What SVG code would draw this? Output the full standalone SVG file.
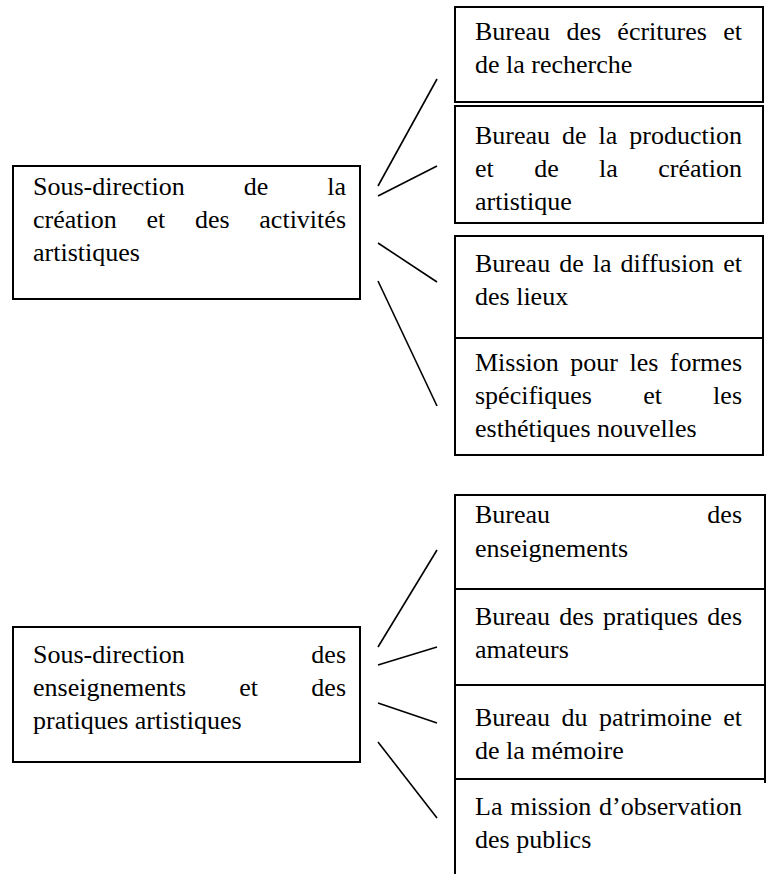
<svg xmlns="http://www.w3.org/2000/svg" width="771" height="874" viewBox="0 0 771 874" font-family="serif">
<style>
.box{fill:none;stroke:#000;stroke-width:2}
.ln{fill:none;stroke:#000;stroke-width:1.6}
text{font-size:26px;fill:#000}
</style>
<rect width="771" height="874" fill="#fff"/>
<g id="connectors">
<line class="ln" x1="378" y1="186" x2="437" y2="79"/>
<line class="ln" x1="378" y1="196" x2="437" y2="166"/>
<line class="ln" x1="378" y1="243" x2="437" y2="282"/>
<line class="ln" x1="378" y1="281" x2="437" y2="406"/>
<line class="ln" x1="378" y1="647" x2="437" y2="550"/>
<line class="ln" x1="378" y1="665" x2="437" y2="647"/>
<line class="ln" x1="378" y1="703" x2="437" y2="723"/>
<line class="ln" x1="378" y1="742" x2="437" y2="818"/>
</g>
<g id="sd-creation">
<rect class="box" x="13" y="166" width="347" height="133"/>
<text font-family="Tinos, Liberation Serif, serif" x="33" y="195" word-spacing="52.5" textLength="313" lengthAdjust="spacing">Sous-direction de la</text>
<text font-family="Tinos, Liberation Serif, serif" x="33" y="228" word-spacing="23.2" textLength="313" lengthAdjust="spacing">création et des activités</text>
<text font-family="Tinos, Liberation Serif, serif" x="33" y="261">artistiques</text>
</g>
<g id="bureau-ecritures">
<rect class="box" x="455" y="7" width="308" height="95"/>
<text font-family="Tinos, Liberation Serif, serif" x="475" y="40" word-spacing="9.8" textLength="267" lengthAdjust="spacing">Bureau des écritures et</text>
<text font-family="Tinos, Liberation Serif, serif" x="475" y="73">de la recherche</text>
</g>
<g id="bureau-production">
<rect class="box" x="455" y="106" width="308" height="117"/>
<text font-family="Tinos, Liberation Serif, serif" x="475" y="144" word-spacing="5.5" textLength="267" lengthAdjust="spacing">Bureau de la production</text>
<text font-family="Tinos, Liberation Serif, serif" x="475" y="177" word-spacing="33.9" textLength="267" lengthAdjust="spacing">et de la création</text>
<text font-family="Tinos, Liberation Serif, serif" x="475" y="210">artistique</text>
</g>
<g id="bureau-diffusion">
<rect class="box" x="455" y="236" width="308" height="102"/>
<text font-family="Tinos, Liberation Serif, serif" x="475" y="272" word-spacing="2.5" textLength="267" lengthAdjust="spacing">Bureau de la diffusion et</text>
<text font-family="Tinos, Liberation Serif, serif" x="475" y="305">des lieux</text>
</g>
<g id="mission-formes">
<rect class="box" x="455" y="338" width="308" height="117"/>
<text font-family="Tinos, Liberation Serif, serif" x="475" y="371" word-spacing="5" textLength="267" lengthAdjust="spacing">Mission pour les formes</text>
<text font-family="Tinos, Liberation Serif, serif" x="475" y="404" word-spacing="44.7" textLength="267" lengthAdjust="spacing">spécifiques et les</text>
<text font-family="Tinos, Liberation Serif, serif" x="475" y="437">esthétiques nouvelles</text>
</g>
<g id="sd-enseignements">
<rect class="box" x="13" y="627" width="347" height="135"/>
<text font-family="Tinos, Liberation Serif, serif" x="33" y="663" word-spacing="120.2" textLength="313" lengthAdjust="spacing">Sous-direction des</text>
<text font-family="Tinos, Liberation Serif, serif" x="33" y="696" word-spacing="46.75" textLength="313" lengthAdjust="spacing">enseignements et des</text>
<text font-family="Tinos, Liberation Serif, serif" x="33" y="729">pratiques artistiques</text>
</g>
<g id="bureau-enseignements">
<path class="box" d="M455,589 V495 H765 V589 H455"/>
<text font-family="Tinos, Liberation Serif, serif" x="475" y="523" word-spacing="150.8" textLength="267" lengthAdjust="spacing">Bureau des</text>
<text font-family="Tinos, Liberation Serif, serif" x="475" y="557">enseignements</text>
</g>
<g id="bureau-amateurs">
<path class="box" d="M455,589 V685 M765,589 V685 H455"/>
<text font-family="Tinos, Liberation Serif, serif" x="475" y="625" word-spacing="2.6" textLength="267" lengthAdjust="spacing">Bureau des pratiques des</text>
<text font-family="Tinos, Liberation Serif, serif" x="475" y="658">amateurs</text>
</g>
<g id="bureau-patrimoine">
<path class="box" d="M455,685 V779 H765 M765,685 V783"/>
<text font-family="Tinos, Liberation Serif, serif" x="475" y="726" word-spacing="5" textLength="267" lengthAdjust="spacing">Bureau du patrimoine et</text>
<text font-family="Tinos, Liberation Serif, serif" x="475" y="759">de la mémoire</text>
</g>
<g id="mission-publics">
<path class="box" d="M455,779 V874"/>
<text font-family="Tinos, Liberation Serif, serif" x="475" y="815" word-spacing="1.35" textLength="267" lengthAdjust="spacing">La mission d’observation</text>
<text font-family="Tinos, Liberation Serif, serif" x="475" y="848">des publics</text>
</g>
</svg>
